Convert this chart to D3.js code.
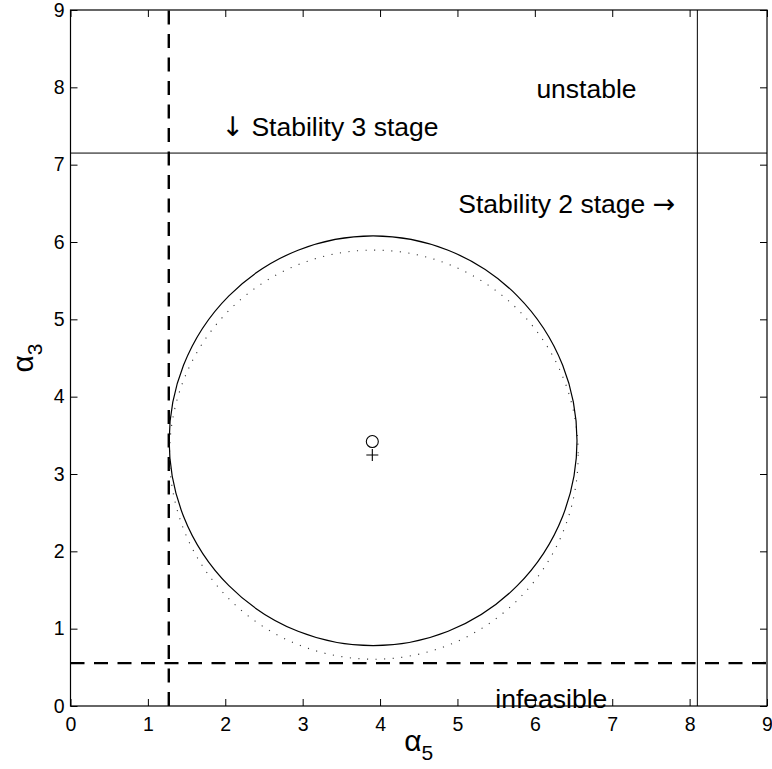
<!DOCTYPE html>
<html>
<head>
<meta charset="utf-8">
<script src="https://cdn.jsdelivr.net/npm/d3@7"></script>
<style>
  body { margin: 0; background: #fff; }
  text { font-family: "Liberation Sans", Arial, Helvetica, sans-serif; fill: #000; }
</style>
</head>
<body>
<svg id="chart" width="772" height="769"></svg>
<script>
// ---- data ----
const xTicks = [0, 1, 2, 3, 4, 5, 6, 7, 8, 9];
const yTicks = [0, 1, 2, 3, 4, 5, 6, 7, 8, 9];
const feasibleLimitX = [1.27];      // dashed vertical boundary (alpha5)
const feasibleLimitY = [0.555];     // dashed horizontal boundary (alpha3)
const stage2LimitX = [8.1];         // solid vertical stability boundary
const stage3LimitY = [7.15];        // solid horizontal stability boundary
const regionCenter = [3.91, 3.43];  // solid circle: centre (a5, a3)
const regionRadius = [2.635, 2.65];
const approxCenter = [3.92, 3.25];  // dotted circle: centre (a5, a3)
const approxRadius = [2.64, 2.645];
const optimumPoint = [3.9, 3.42];   // "o" marker
const nominalPoint = [3.9, 3.245];  // "+" marker
const labelText = ["unstable", "\u2193 Stability 3 stage", "Stability 2 stage \u2192", "infeasible"];
const labelX = [6.02, 1.95, 5.01, 5.49];
const labelY = [7.86, 7.37, 6.375, -0.03];

// ---- layout ----
const svg = d3.select("#chart");
const x = d3.scaleLinear().domain([0, 9]).range([70.5, 767]);
const y = d3.scaleLinear().domain([0, 9]).range([706, 10]);

const g = svg.append("g");

// guide lines
const dash = "14,9.5";
g.selectAll(".fx").data(feasibleLimitX).join("line")
  .attr("x1", d => x(d)).attr("x2", d => x(d))
  .attr("y1", y(0)).attr("y2", y(9))
  .attr("stroke", "#000").attr("stroke-width", 2.4).attr("stroke-dasharray", dash);
g.selectAll(".fy").data(feasibleLimitY).join("line")
  .attr("x1", x(0)).attr("x2", x(9))
  .attr("y1", d => y(d)).attr("y2", d => y(d))
  .attr("stroke", "#000").attr("stroke-width", 2.4).attr("stroke-dasharray", dash);
g.selectAll(".sx").data(stage2LimitX).join("line")
  .attr("x1", d => x(d)).attr("x2", d => x(d))
  .attr("y1", y(0)).attr("y2", y(9))
  .attr("stroke", "#000").attr("stroke-width", 1);
g.selectAll(".sy").data(stage3LimitY).join("line")
  .attr("x1", x(0)).attr("x2", x(9))
  .attr("y1", d => y(d)).attr("y2", d => y(d))
  .attr("stroke", "#000").attr("stroke-width", 1);

// regions
g.append("ellipse")
  .attr("cx", x(approxCenter[0])).attr("cy", y(approxCenter[1]))
  .attr("rx", x(approxRadius[0]) - x(0)).attr("ry", y(0) - y(approxRadius[1]))
  .attr("fill", "none").attr("stroke", "#333").attr("stroke-width", 1.1)
  .attr("stroke-dasharray", "1.1,7.5");
g.append("ellipse")
  .attr("cx", x(regionCenter[0])).attr("cy", y(regionCenter[1]))
  .attr("rx", x(regionRadius[0]) - x(0)).attr("ry", y(0) - y(regionRadius[1]))
  .attr("fill", "none").attr("stroke", "#000").attr("stroke-width", 1.2);

// markers
g.append("circle")
  .attr("cx", x(optimumPoint[0])).attr("cy", y(optimumPoint[1])).attr("r", 6)
  .attr("fill", "none").attr("stroke", "#000").attr("stroke-width", 1.1);
g.append("path")
  .attr("d", `M${x(nominalPoint[0]) - 6},${y(nominalPoint[1])}h12M${x(nominalPoint[0])},${y(nominalPoint[1]) - 6}v12`)
  .attr("stroke", "#000").attr("stroke-width", 1.1);

// annotations; arrow glyphs set in a font with full-size arrows
const arrowRe = /([\u2190-\u2193])/;
g.selectAll(".ann").data(labelText).join("text")
  .attr("x", (d, i) => x(labelX[i])).attr("y", (d, i) => y(labelY[i]))
  .attr("font-size", 26.5)
  .each(function (d) {
    const t = d3.select(this);
    d.split(arrowRe).filter(s => s.length).forEach(part => {
      const sp = t.append("tspan").text(part);
      if (arrowRe.test(part)) sp.attr("font-family", "DejaVu Sans").attr("font-size", 27);
    });
  });

// axes (ticks inside, mirrored on all four sides)
function styleAxis(sel) {
  sel.select(".domain").remove();
  sel.selectAll(".tick line").attr("stroke", "#000").attr("stroke-width", 1);
  sel.selectAll(".tick text").attr("font-size", 19.5).attr("fill", "#000");
}
svg.append("g").attr("transform", `translate(0,${y(0)})`)
  .call(d3.axisBottom(x).tickValues(xTicks).tickSize(-7).tickPadding(11).tickFormat(d3.format("d")))
  .call(styleAxis);
svg.append("g").attr("transform", `translate(0,${y(9)})`)
  .call(d3.axisTop(x).tickValues(xTicks).tickSize(-7).tickFormat(""))
  .call(styleAxis);
svg.append("g").attr("transform", `translate(${x(0)},0)`)
  .call(d3.axisLeft(y).tickValues(yTicks).tickSize(-7).tickPadding(6).tickFormat(d3.format("d")))
  .call(styleAxis);
svg.append("g").attr("transform", `translate(${x(9)},0)`)
  .call(d3.axisRight(y).tickValues(yTicks).tickSize(-7).tickFormat(""))
  .call(styleAxis);

// frame
svg.append("rect")
  .attr("x", x(0)).attr("y", y(9))
  .attr("width", x(9) - x(0)).attr("height", y(0) - y(9))
  .attr("fill", "none").attr("stroke", "#000").attr("stroke-width", 1.2);

// axis titles
const xl = svg.append("text")
  .attr("x", (x(0) + x(9)) / 2).attr("y", 751)
  .attr("text-anchor", "middle").attr("font-size", 30);
xl.append("tspan").text("\u03b1");
xl.append("tspan").attr("font-size", 21).attr("dy", 9).text("5");

const yl = svg.append("text")
  .attr("transform", `translate(33,${(y(0) + y(9)) / 2}) rotate(-90)`)
  .attr("text-anchor", "middle").attr("font-size", 30);
yl.append("tspan").text("\u03b1");
yl.append("tspan").attr("font-size", 21).attr("dy", 9).text("3");
</script>
</body>
</html>
